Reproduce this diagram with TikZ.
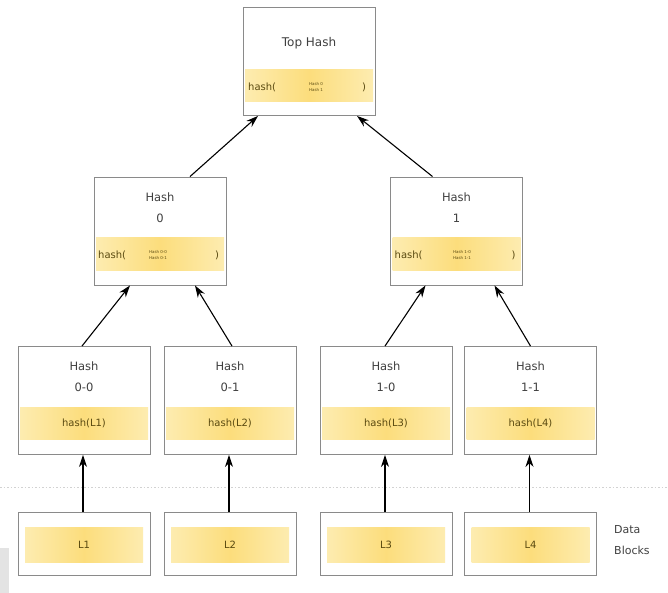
\documentclass[tikz,border=0pt]{standalone}
\usepackage{fontspec}
\setmainfont{DejaVu Sans}
\usetikzlibrary{arrows.meta,calc}
\definecolor{boxline}{HTML}{8A8A8A}
\definecolor{bandmid}{HTML}{FCDD7C}
\definecolor{bandedge}{HTML}{FDECB0}
\definecolor{txt}{HTML}{404040}
\definecolor{bandtxt}{HTML}{5A4A10}
\tikzset{
  x=1pt, y=-1pt,
  hashbox/.style={draw=boxline, line width=0.9pt, fill=white, minimum width=132pt, minimum height=108pt, inner sep=0pt},
  databox/.style={draw=boxline, line width=0.9pt, fill=white, minimum width=132pt, minimum height=63pt, inner sep=0pt},
  band/.style={left color=bandedge, right color=bandedge, middle color=bandmid, draw=none, minimum width=128pt, minimum height=32pt, inner sep=0pt},
  title/.style={text=txt, font=\fontsize{11.5}{21}\selectfont, align=center, inner sep=0pt},
  bandlbl/.style={text=bandtxt, font=\fontsize{10}{10}\selectfont, inner sep=0pt},
  tiny/.style={text=bandtxt, font=\fontsize{4}{5.5}\selectfont, align=center, inner sep=0pt},
  link/.style={-{Stealth[length=12pt,width=8pt]}, line width=1.1pt, black},
}
\begin{document}
\begin{tikzpicture}
\useasboundingbox (0,0) rectangle (668,593);
\fill[gray!22] (0,548) rectangle (9,593);
\draw[gray!35, line width=1pt, dash pattern=on 1.5pt off 2pt] (0,487) -- (668,487);

% Top hash
\node[hashbox] (top) at (309,61.5) {};
\node[band] (topb) at (309,86) {};
\node[title, font=\fontsize{12}{21}\selectfont] (topt) at (309,43) {Top Hash};
\node[bandlbl, anchor=west] (toph) at (248,87) {hash(};
\node[tiny] (tops) at (316,87) {Hash 0\\Hash 1};
\node[bandlbl] (topc) at (364,87) {)};

% Hash 0 and Hash 1
\foreach \n/\cx/\lab/\sx in {h0/160/0/158, h1/456.5/1/462}{
  \node[hashbox] (\n) at (\cx,231) {};
  \node[band] (\n b) at (\cx,254) {};
  \node[title] (\n t) at (\cx,208) {Hash\\\lab};
  \node[bandlbl, anchor=west] (\n h) at (\cx-62,255) {hash(};
  \node[tiny] (\n s) at (\sx,255) {Hash \lab-0\\Hash \lab-1};
  \node[bandlbl] (\n c) at (\cx+57,255) {)};
}

% Leaf hashes
\foreach \n/\cx/\lab/\L in {h00/84/0-0/L1, h01/230/0-1/L2, h10/386/1-0/L3, h11/530.5/1-1/L4}{
  \node[hashbox] (\n) at (\cx,400.5) {};
  \node[band] (\n b) at (\cx,423) {};
  \node[title] (\n t) at (\cx,377) {Hash\\\lab};
  \node[bandlbl] (\n h) at (\cx,423) {hash(\L)};
  \node[databox] (d\n) at (\cx,543.5) {};
  \node[band, minimum width=118pt, minimum height=35pt] (d\n b) at (\cx,544.5) {};
  \node[bandlbl] (d\n t) at (\cx,545) {\L};
}

\node[title, font=\fontsize{11}{21}\selectfont, align=left, anchor=west] (datalbl) at (614,540) {Data\\Blocks};

% Arrows
\draw[link] ([xshift=30pt]h0.north) -- ([xshift=-51pt]top.south);
\draw[link] ([xshift=-24pt]h1.north) -- ([xshift=48pt]top.south);
\draw[link] ([xshift=-2pt]h00.north) -- ([xshift=-30pt]h0.south);
\draw[link] ([xshift=2pt]h01.north) -- ([xshift=35pt]h0.south);
\draw[link] ([xshift=-1pt]h10.north) -- ([xshift=-31pt]h1.south);
\draw[link] ([xshift=0pt]h11.north) -- ([xshift=38pt]h1.south);
\foreach \n in {h00,h01,h10,h11}{
  \draw[link] ([xshift=-1pt]d\n.north) -- ([xshift=-1pt]\n.south);
}
\end{tikzpicture}
\end{document}
